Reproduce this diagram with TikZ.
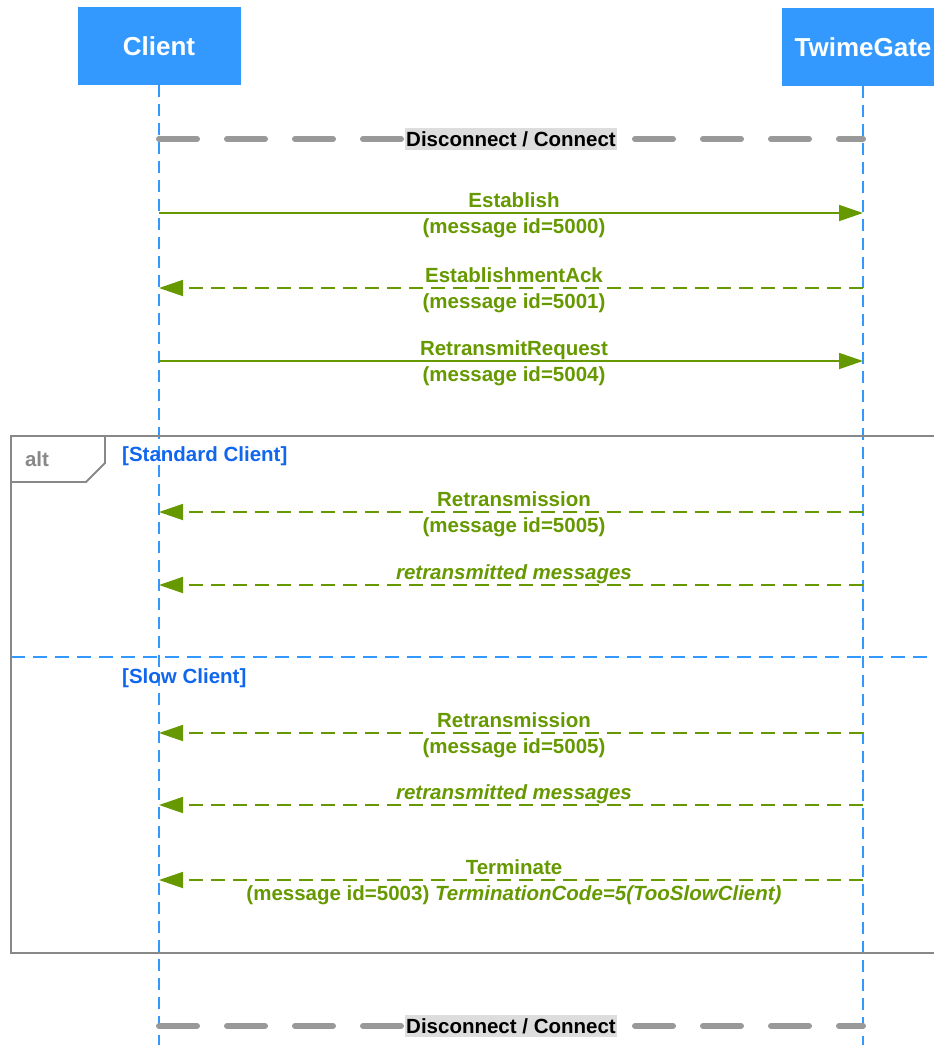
\documentclass[tikz,border=0pt]{standalone}
\usepackage{fontspec}
\setmainfont{Liberation Sans}
\usetikzlibrary{arrows.meta}
\definecolor{headblue}{RGB}{51,153,255}
\definecolor{msggreen}{RGB}{102,153,0}
\definecolor{guardblue}{RGB}{17,102,238}
\definecolor{framegray}{RGB}{136,136,136}
\definecolor{sepgray}{RGB}{153,153,153}
\definecolor{sepfill}{RGB}{221,221,221}
\newcommand\msgfont{\fontsize{20.5}{25.5}\selectfont\bfseries}
\tikzset{
  actor/.style={fill=headblue,text=white,minimum width=163pt,minimum height=78pt,
    font=\fontsize{26}{31}\selectfont\bfseries},
  lifeline/.style={headblue,line width=1.5pt,dash pattern=on 12pt off 7pt},
  msg/.style={msggreen,line width=1.8pt,-{Triangle[length=24pt,width=16pt]}},
  reply/.style={msg,dash pattern=on 14pt off 8pt},
  msgtext/.style={text=msggreen,font=\msgfont,align=center,inner sep=0pt,xshift=3pt,yshift=-2pt},
  msgone/.style={msgtext,anchor=base,yshift=8pt,font=\msgfont\itshape},
  sepline/.style={sepgray,line width=6pt,line cap=round,dash pattern=on 38pt off 30pt},
  septext/.style={fill=sepfill,text=black,font=\msgfont,inner xsep=1.5pt,inner ysep=3.5pt},
  frame/.style={framegray,line width=1.8pt},
  altsep/.style={headblue,line width=1.5pt,dash pattern=on 14pt off 8pt},
  guard/.style={text=guardblue,font=\msgfont,anchor=west,inner sep=0pt}
}
\begin{document}
\begin{tikzpicture}[x=1pt,y=-1pt]
\useasboundingbox (0,0) rectangle (934,1045);
\clip (0,0) rectangle (934,1045);
\node[actor] (client) at (159,46) {Client};
\node[actor] (gate) at (863,47) {TwimeGate};
\coordinate (clientend) at (159,1045);
\coordinate (gateend) at (863,1045);
\draw[lifeline] (client.south) -- (clientend);
\draw[lifeline] (gate.south) -- (gateend);
\foreach \n/\y in {top/139,bottom/1026}{
  \coordinate (sl-\n) at (159,\y);
  \coordinate (sr-\n) at (863,\y);
  \draw[sepline] (sl-\n) -- node[septext] (sep-\n) {Disconnect / Connect} (sr-\n);
}
\foreach \n/\y in {est/213,ack/288,req/361,rt1/512,rm1/585,rt2/733,rm2/805,term/880}{
  \coordinate (c-\n) at (159,\y);
  \coordinate (g-\n) at (863,\y);
}
\draw[msg] (c-est) -- node[msgtext] (est) {Establish\\(message id=5000)} (g-est);
\draw[reply] (g-ack) -- node[msgtext] (ack) {EstablishmentAck\\(message id=5001)} (c-ack);
\draw[msg] (c-req) -- node[msgtext] (req) {RetransmitRequest\\(message id=5004)} (g-req);
\draw[frame] (11,436) rectangle (960,953);
\draw[frame] (11,482) -- (86,482) -- (105,463) -- (105,436);
\node[text=framegray,font=\msgfont] (alt) at (37,459) {alt};
\node[guard] (std) at (122,456) {[Standard Client]};
\draw[reply] (g-rt1) -- node[msgtext] (rt1) {Retransmission\\(message id=5005)} (c-rt1);
\draw[reply] (g-rm1) -- node[msgone] (rm1) {retransmitted messages} (c-rm1);
\coordinate (altl) at (11,657);
\coordinate (altr) at (960,657);
\draw[altsep] (altl) -- (altr);
\node[guard] (slow) at (122,678) {[Slow Client]};
\draw[reply] (g-rt2) -- node[msgtext] (rt2) {Retransmission\\(message id=5005)} (c-rt2);
\draw[reply] (g-rm2) -- node[msgone] (rm2) {retransmitted messages} (c-rm2);
\draw[reply] (g-term) -- node[msgtext] (term)
  {Terminate\\(message id=5003) \textit{TerminationCode=5(TooSlowClient)}} (c-term);
\end{tikzpicture}
\end{document}
